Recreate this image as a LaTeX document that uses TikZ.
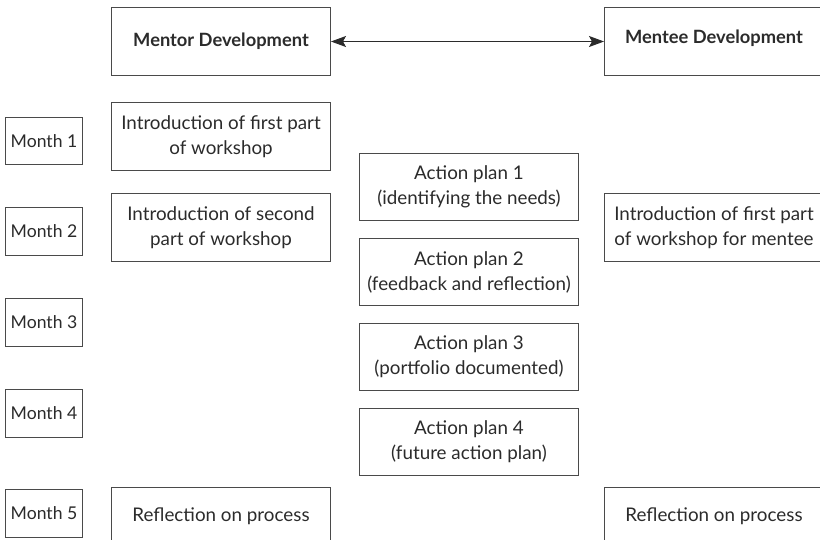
\documentclass[tikz,border=0pt]{standalone}
\usepackage{fontspec}
\setmainfont{Lato}
\usetikzlibrary{arrows.meta}
\definecolor{lin}{HTML}{4A4A4A}
\definecolor{txt}{HTML}{2B2B2B}
\tikzset{
  box/.style={draw=lin, line width=1pt, text=txt, align=center, inner sep=0pt,
    font=\fontsize{18.8}{25}\selectfont},
  month/.style={box, font=\fontsize{17.6}{25}\selectfont},
  head/.style={box, font=\fontsize{18.3}{25}\selectfont\bfseries},
  conn/.style={draw=txt, line width=0.9pt, {Stealth[length=15pt,width=11pt,inset=3pt]}-{Stealth[length=15pt,width=11pt,inset=3pt]}}
}
\newcommand{\bx}[7]{% name, style, x1,y1,x2,y2, text
  \node[#2, minimum width={#5-#3}, minimum height={#6-#4}] (#1) at ({(#3+#5)/2},{(#4+#6)/2}) {#7};}
\begin{document}
\begin{tikzpicture}[x=1pt,y=-1pt]
\useasboundingbox (0,0) rectangle (820,539);
\clip (0,0) rectangle (820,539);
\bx{mentor}{head}{111.5}{7.5}{330.5}{75.5}{Mentor Development}
\bx{mentee}{head}{604.5}{7.5}{823.5}{75.5}{\raisebox{9pt}{Mentee Development}}
\draw[conn] (mentor.east) -- (mentee.west);
\bx{m1}{month}{5.5}{117.5}{82.5}{164.5}{Month 1}
\bx{m2}{month}{5.5}{207.5}{82.5}{255.5}{Month 2}
\bx{m3}{month}{5.5}{298.5}{82.5}{346.5}{Month 3}
\bx{m4}{month}{5.5}{389.5}{82.5}{437.5}{Month 4}
\bx{m5}{month}{5.5}{489.5}{82.5}{537.5}{Month 5}
\bx{i1}{box}{111.5}{102.5}{330.5}{170.5}{Introduction of first part\\of workshop}
\bx{i2}{box}{111.5}{193.5}{330.5}{261.5}{Introduction of second\\part of workshop}
\bx{a1}{box}{359.5}{153.5}{578.5}{220.5}{Action plan 1\\(identifying the needs)}
\bx{a2}{box}{359.5}{238.5}{578.5}{305.5}{Action plan 2\\(feedback and reflection)}
\bx{a3}{box}{359.5}{323.5}{578.5}{390.5}{Action plan 3\\(portfolio documented)}
\bx{a4}{box}{359.5}{408.5}{578.5}{475.5}{Action plan 4\\(future action plan)}
\bx{r2}{box}{604.5}{193.5}{823.5}{261.5}{Introduction of first part\\of workshop for mentee}
\bx{f1}{box}{111.5}{487.5}{330.5}{545}{\raisebox{-2pt}{Reflection on process}}
\bx{f2}{box}{604.5}{487.5}{823.5}{545}{\raisebox{-2pt}{Reflection on process}}
\end{tikzpicture}
\end{document}
